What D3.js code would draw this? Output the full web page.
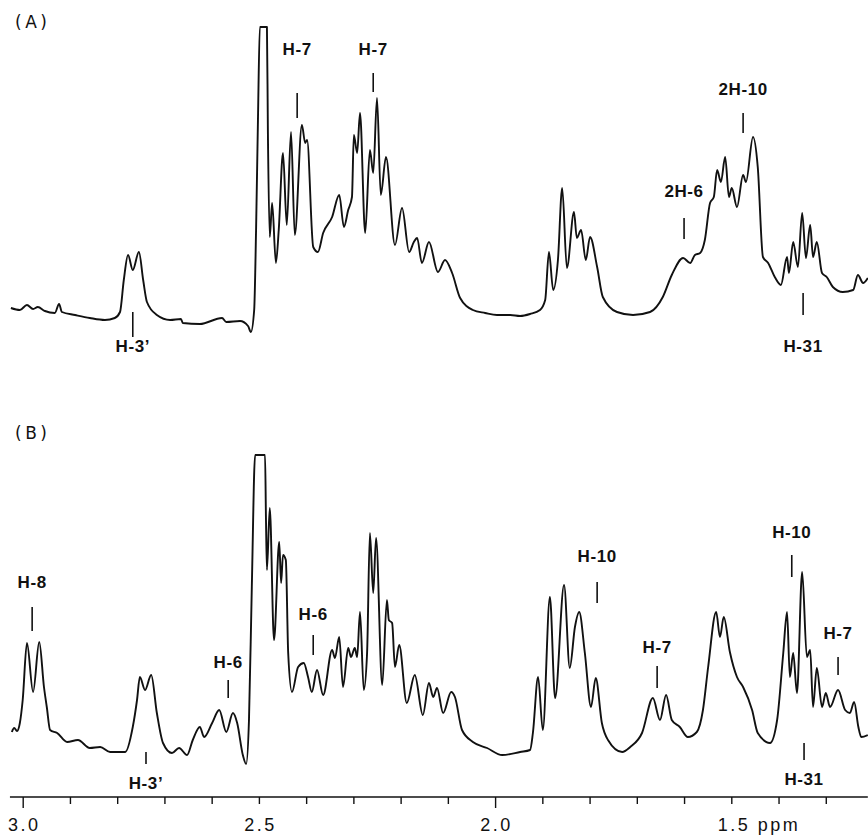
<!DOCTYPE html>
<html>
<head>
<meta charset="utf-8">
<script src="https://cdn.jsdelivr.net/npm/d3@7"></script>
<style>
  body { margin: 0; background: #fff; }
  svg { display: block; }
  .peak { font-family: "Liberation Sans", Arial, sans-serif; font-weight: bold; font-size: 17px; letter-spacing: 0.6px; }
  .panel { font-family: "DejaVu Sans", sans-serif; font-size: 17px; letter-spacing: 3.5px; }
  .axis text { font-family: "Liberation Sans", Arial, sans-serif; font-size: 18px; letter-spacing: 2.5px; fill: #111; }
</style>
</head>
<body>
<script>
// spectrum (A): [ppm, intensity]
var spectrumA = [
  [3.025,17],[3.006,15],[2.991,20],[2.978,16],[2.968,18],[2.953,14],[2.932,12],[2.923,21],[2.917,13],
  [2.889,10],[2.858,7],[2.826,5],[2.805,7],[2.794,13],[2.786,45],[2.777,70],[2.767,55],[2.754,73],
  [2.745,45],[2.737,23],[2.716,10],[2.688,5],[2.665,6],[2.661,2],[2.625,1],[2.578,7],[2.569,3],
  [2.540,4],[2.523,-1],[2.517,-7],[2.510,15],[2.506,95],[2.502,205],[2.498,298],[2.483,298],
  [2.481,195],[2.477,88],[2.472,122],[2.464,62],[2.458,95],[2.449,172],[2.441,100],[2.432,193],
  [2.424,90],[2.409,200],[2.402,182],[2.398,185],[2.385,78],[2.375,73],[2.364,92],[2.345,108],
  [2.330,130],[2.320,98],[2.311,115],[2.303,128],[2.299,190],[2.292,172],[2.286,212],[2.275,92],
  [2.265,175],[2.258,152],[2.250,227],[2.242,130],[2.231,168],[2.212,80],[2.197,117],[2.182,73],
  [2.172,83],[2.165,87],[2.155,62],[2.140,83],[2.121,53],[2.106,65],[2.091,52],[2.074,27],
  [2.047,15],[2.021,12],[1.996,10],[1.968,10],[1.947,9],[1.926,11],[1.905,15],[1.894,25],
  [1.886,73],[1.877,35],[1.867,65],[1.858,137],[1.848,57],[1.833,113],[1.827,87],[1.818,95],
  [1.808,65],[1.799,88],[1.784,58],[1.772,28],[1.742,13],[1.708,10],[1.672,13],[1.645,28],
  [1.626,50],[1.602,67],[1.587,62],[1.577,70],[1.566,72],[1.556,85],[1.545,122],[1.537,128],
  [1.530,155],[1.522,143],[1.513,168],[1.505,128],[1.499,137],[1.488,118],[1.475,150],[1.469,143],
  [1.454,188],[1.444,158],[1.433,68],[1.422,62],[1.408,48],[1.395,40],[1.382,68],[1.378,52],
  [1.369,83],[1.359,58],[1.350,112],[1.342,67],[1.333,100],[1.327,68],[1.319,83],[1.308,52],
  [1.298,48],[1.285,38],[1.264,33],[1.242,35],[1.232,50],[1.221,42],[1.211,47]
];

// spectrum (B): [ppm, intensity]
var spectrumB = [
  [3.023,26],[3.018,30],[3.012,27],[3.006,35],[3.000,58],[2.991,115],[2.978,66],[2.965,116],
  [2.955,71],[2.949,51],[2.942,28],[2.927,25],[2.906,16],[2.883,18],[2.858,10],[2.836,11],
  [2.815,6],[2.783,6],[2.767,31],[2.758,58],[2.752,81],[2.741,68],[2.728,83],[2.716,45],
  [2.703,15],[2.684,5],[2.669,10],[2.652,3],[2.640,18],[2.625,31],[2.616,21],[2.599,35],
  [2.584,48],[2.569,26],[2.555,45],[2.546,35],[2.534,3],[2.527,-6],[2.521,38],[2.515,171],
  [2.508,303],[2.487,303],[2.485,238],[2.483,188],[2.477,250],[2.468,118],[2.457,216],[2.453,175],
  [2.449,203],[2.443,198],[2.438,105],[2.430,66],[2.417,91],[2.405,95],[2.396,81],[2.388,66],
  [2.377,88],[2.364,63],[2.345,108],[2.339,100],[2.330,121],[2.322,71],[2.311,110],[2.305,101],
  [2.297,110],[2.292,101],[2.286,146],[2.278,68],[2.271,105],[2.265,225],[2.258,165],[2.252,220],
  [2.239,73],[2.229,158],[2.225,138],[2.218,135],[2.212,91],[2.203,113],[2.187,55],[2.170,83],
  [2.153,43],[2.140,75],[2.131,61],[2.123,70],[2.110,45],[2.093,66],[2.085,61],[2.070,28],
  [2.047,16],[2.017,10],[1.985,3],[1.947,6],[1.926,8],[1.920,25],[1.909,81],[1.899,28],
  [1.884,161],[1.873,60],[1.854,173],[1.842,90],[1.831,131],[1.822,146],[1.810,105],[1.797,51],
  [1.787,80],[1.774,35],[1.761,18],[1.731,6],[1.714,11],[1.689,25],[1.666,60],[1.651,38],
  [1.638,63],[1.626,38],[1.609,31],[1.592,21],[1.573,26],[1.560,48],[1.549,91],[1.532,146],
  [1.524,121],[1.516,141],[1.503,106],[1.488,81],[1.475,71],[1.456,48],[1.444,25],[1.418,15],
  [1.403,38],[1.390,105],[1.382,146],[1.376,81],[1.369,105],[1.361,65],[1.350,186],[1.340,101],
  [1.333,108],[1.327,51],[1.319,90],[1.308,51],[1.300,65],[1.291,51],[1.274,68],[1.259,48],
  [1.249,45],[1.240,56],[1.231,31],[1.225,21],[1.211,23]
];

// peak assignments: [label, ppm, tick top, tick bottom, label baseline] (intensity units)
var peaksA = [
  ["H-7", 2.419, 232, 207, 270],
  ["H-7", 2.258, 252, 233, 270],
  ["2H-6", 1.600, 107, 86, 128],
  ["2H-10", 1.475, 212, 192, 230],
  ["H-3\u2019", 2.767, 13, -12, -27],
  ["H-31", 1.348, 32, 10, -27]
];
var peaksB = [
  ["H-8", 2.980, 151, 127, 170],
  ["H-3\u2019", 2.739, 6, -6, -31],
  ["H-6", 2.565, 78, 60, 90],
  ["H-6", 2.385, 123, 103, 138],
  ["H-10", 1.784, 176, 155, 196],
  ["H-7", 1.657, 92, 70, 105],
  ["H-10", 1.372, 203, 181, 220],
  ["H-7", 1.274, 101, 83, 119],
  ["H-31", 1.346, 15, -2, -27]
];

var axisTicks = [3.0, 2.9, 2.8, 2.7, 2.6, 2.5, 2.4, 2.3, 2.2, 2.1, 2.0, 1.9, 1.8, 1.7, 1.6, 1.5, 1.4, 1.3];
var axisLabels = {"3": "3.0", "2.5": "2.5", "2": "2.0", "1.5": "1.5 ppm"};
var axisRange = [3.027, 1.211];

var width = 868, height = 837;

var svg = d3.select("body").append("svg")
    .attr("width", width)
    .attr("height", height);

var x = d3.scaleLinear()
    .domain([3.0, 1.5])
    .range([22.7, 731.3]);

var yA = d3.scaleLinear().domain([0, 300]).range([325, 25]);
var yB = d3.scaleLinear().domain([0, 300]).range([758, 458]);

function drawPanel(data, peaks, y, name, top) {
    var line = d3.line()
        .x(d => x(d[0]))
        .y(d => y(d[1]))
        .curve(d3.curveMonotoneX);

    svg.append("path")
        .datum(data)
        .attr("d", line)
        .attr("fill", "none")
        .attr("stroke", "#111")
        .attr("stroke-width", 1.9)
        .attr("stroke-linejoin", "round");

    var g = svg.append("g");
    g.selectAll("line")
        .data(peaks)
        .enter().append("line")
        .attr("x1", d => x(d[1]))
        .attr("x2", d => x(d[1]))
        .attr("y1", d => y(d[2]))
        .attr("y2", d => y(d[3]))
        .attr("stroke", "#111")
        .attr("stroke-width", 1.6);

    g.selectAll("text")
        .data(peaks)
        .enter().append("text")
        .attr("class", "peak")
        .attr("x", d => x(d[1]))
        .attr("y", d => y(d[4]))
        .attr("text-anchor", "middle")
        .attr("fill", "#111")
        .text(d => d[0]);

    svg.append("text")
        .attr("class", "panel")
        .attr("x", 15)
        .attr("y", top)
        .attr("fill", "#111")
        .text(name);
}

drawPanel(spectrumA, peaksA, yA, "(A)", 28);
drawPanel(spectrumB, peaksB, yB, "(B)", 439);

// ppm axis
var axis = svg.append("g")
    .attr("class", "axis")
    .attr("transform", "translate(0,797)")
    .call(d3.axisBottom(x)
        .tickValues(axisTicks)
        .tickSize(7)
        .tickSizeOuter(0)
        .tickFormat(d => axisLabels[String(d)] || ""));

axis.select(".domain").remove();
axis.append("line")
    .attr("x1", x(axisRange[0]))
    .attr("x2", x(axisRange[1]))
    .attr("stroke", "#111")
    .attr("stroke-width", 1.6);

axis.selectAll(".tick line")
    .attr("stroke", "#111")
    .attr("stroke-width", 1.4)
    .attr("y2", d => (d === 3.0 || d === 2.0) ? 11 : 7);

axis.selectAll(".tick text")
    .attr("y", 34)
    .attr("dy", 0)
    .attr("text-anchor", d => d === 1.5 ? "start" : "middle")
    .attr("x", d => d === 1.5 ? -14 : 1);
</script>
</body>
</html>
